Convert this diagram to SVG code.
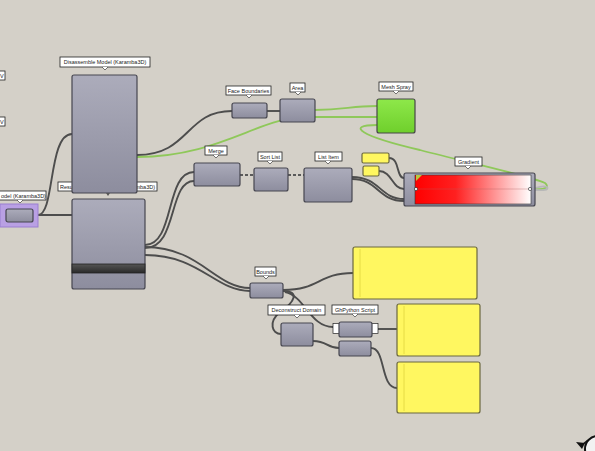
<svg xmlns="http://www.w3.org/2000/svg" width="595" height="451" viewBox="0 0 595 451">
<defs>
<linearGradient id="ng" x1="0" y1="0" x2="0" y2="1"><stop offset="0" stop-color="#acacbb"/><stop offset="1" stop-color="#8d8d9e"/></linearGradient>
<linearGradient id="gg" x1="0" y1="0" x2="0" y2="1"><stop offset="0" stop-color="#8ee84a"/><stop offset="1" stop-color="#6fcf2c"/></linearGradient>
<linearGradient id="rw" x1="0" y1="0" x2="1" y2="0"><stop offset="0" stop-color="#ff0000"/><stop offset="0.35" stop-color="#ff2020"/><stop offset="1" stop-color="#ffffff"/></linearGradient>
<linearGradient id="db" x1="0" y1="0" x2="0" y2="1"><stop offset="0" stop-color="#555"/><stop offset="1" stop-color="#2a2a2a"/></linearGradient>
<style>
.n{fill:url(#ng);stroke:#464650;stroke-width:1.2}
.lb{fill:#fff;stroke:#222;stroke-width:0.8}
.pt{fill:#fff;stroke:#222;stroke-width:0.6}
.t{font-family:"Liberation Sans",Arial,sans-serif;font-size:5.5px;fill:#222}
.w{fill:none;stroke:#4d4d4d;stroke-width:1.9}
.d{fill:none;stroke:#5a5a5a;stroke-width:1.8;stroke-dasharray:3,2}
.gw{fill:none;stroke:#8fc85a;stroke-width:1.8}
.p{fill:#fff760;stroke:#6b6840;stroke-width:1.2}
.ps{fill:none;stroke:#e0d640;stroke-width:0.8}
</style>
</defs>
<rect width="595" height="451" fill="#d4d0c8"/>

<g id="connectors">
<path class="w" d="M38,215 C55,215 48,134 72,134"/>
<path class="w" d="M38,215 L72,215"/>
<path class="w" d="M137,155 C190,155 185,111 232,111"/>
<path class="gw" d="M137,157 C215,157 255,121 300,117 L377,117"/>
<path class="gw" d="M315,110 C345,110 350,106 377,106"/>
<path class="w" d="M267,111 L280,111"/>
<path class="gw" d="M377,125 C345,125 360,136 420,150 C470,163 530,176 545,183 C550,187 545,190 535,189"/>
<path fill="none" stroke="#b8b8b8" stroke-width="1.8" d="M535,188 C545,185 549,187 547,189 C545,191 540,190 535,190"/>
<path class="w" d="M145,245 C175,245 165,172 194,172"/>
<path class="w" d="M145,248 C178,248 168,181 194,181"/>
<path class="w" d="M145,247 C200,247 215,288 250,288"/>
<path class="w" d="M145,255 C200,255 215,291 250,291"/>
<path class="d" d="M240,175 L254,175"/>
<path class="d" d="M288,175 L304,175"/>
<path class="w" d="M352,177 C380,177 380,199 404,199"/>
<path class="w" d="M352,179 C378,179 378,201 404,201"/>
<path class="w" d="M389,158 C400,158 396,178 404,178"/>
<path class="w" d="M379,171 C392,171 392,189 404,189"/>
<path class="w" d="M283,290 C320,290 318,273 353,273"/>
<path class="w" d="M283,291 C300,291 295,302 280,312 C268,322 272,334 281,334"/>
<path class="w" d="M285,292 C305,296 310,327 333,327"/>
<path class="w" d="M313,341 C328,341 326,348 339,348"/>
<path class="w" d="M378,329 L397,329"/>
<path class="w" d="M371,348 C386,348 380,388 397,388"/>
</g>

<g id="left-tags">
<rect class="lb" x="-4" y="71" width="9" height="9"/>
<text class="t" x="0" y="78">V</text>
<rect class="lb" x="-4" y="117" width="9" height="9"/>
<text class="t" x="0" y="124">V</text>
</g>

<g id="model">
<rect x="0" y="204" width="38" height="23" fill="#b9a0e4" stroke="#9a7fd0" stroke-width="1"/>
<rect class="n" x="6" y="209" width="27" height="13" rx="2"/>
<rect class="lb" x="-6" y="191" width="52" height="9"/>
<path class="pt" d="M17,200 L20,203 L23,200"/>
<text class="t" x="1" y="197.8">odel (Karamba3D)</text>
</g>

<g id="response">
<rect class="lb" x="58" y="182" width="99" height="9"/>
<text class="t" x="60" y="188.8">Resu</text>
<text class="t" x="155" y="188.8" text-anchor="end">mba3D)</text>
<rect class="n" x="72" y="199" width="73" height="90" rx="2"/>
<rect x="72" y="264" width="73" height="9" fill="url(#db)" stroke="#222" stroke-width="0.8"/>
</g>

<g id="disassemble">
<rect class="lb" x="60" y="57" width="90" height="10"/>
<path class="pt" d="M102,67 L105,70 L108,67"/>
<text class="t" x="105" y="64.3" text-anchor="middle">Disassemble Model (Karamba3D)</text>
<rect class="n" x="72" y="75" width="65" height="118" rx="2"/>
<path d="M106,193 L108,196 L110,193" fill="#555"/>
</g>

<g id="face-boundaries">
<rect class="lb" x="226" y="86" width="45" height="9"/>
<path class="pt" d="M246,95 L249,98 L252,95"/>
<text class="t" x="248.5" y="92.7" text-anchor="middle">Face Boundaries</text>
<rect class="n" x="232" y="103" width="35" height="15" rx="2"/>
</g>

<g id="area">
<rect class="lb" x="290" y="83" width="15" height="9"/>
<path class="pt" d="M295,92 L298,95 L301,92"/>
<text class="t" x="297.5" y="89.7" text-anchor="middle">Area</text>
<rect class="n" x="280" y="99" width="35" height="23" rx="2"/>
</g>

<g id="mesh-spray">
<rect class="lb" x="379" y="82" width="34" height="9"/>
<path class="pt" d="M393,91 L396,94 L399,91"/>
<text class="t" x="396" y="88.7" text-anchor="middle">Mesh Spray</text>
<rect x="377" y="99" width="38" height="34" rx="2" fill="url(#gg)" stroke="#464646" stroke-width="1.2"/>
</g>

<g id="merge">
<rect class="lb" x="205" y="146" width="22" height="9"/>
<path class="pt" d="M213,155 L216,158 L219,155"/>
<text class="t" x="216" y="152.7" text-anchor="middle">Merge</text>
<rect class="n" x="194" y="163" width="46" height="23" rx="2"/>
</g>

<g id="sort-list">
<rect class="lb" x="258" y="152" width="24" height="9"/>
<path class="pt" d="M267,161 L270,164 L273,161"/>
<text class="t" x="270" y="158.7" text-anchor="middle">Sort List</text>
<rect class="n" x="254" y="168" width="34" height="23" rx="2"/>
</g>

<g id="list-item">
<rect class="lb" x="315" y="152" width="27" height="9"/>
<path class="pt" d="M325,161 L328,164 L331,161"/>
<text class="t" x="328.5" y="158.7" text-anchor="middle">List Item</text>
<rect class="n" x="304" y="168" width="48" height="34" rx="2"/>
</g>

<g id="swatch-1"><rect class="p" x="362" y="153" width="27" height="10" rx="1.5"/></g>
<g id="swatch-2"><rect class="p" x="363" y="166" width="16" height="10" rx="1.5"/></g>

<g id="gradient">
<rect class="lb" x="455" y="157" width="27" height="9"/>
<path class="pt" d="M465,166 L468,169 L471,166"/>
<text class="t" x="468.5" y="163.7" text-anchor="middle">Gradient</text>
<rect class="n" x="404" y="173" width="131" height="33" rx="2"/>
<rect x="415" y="175" width="116" height="29" fill="url(#rw)" stroke="#333" stroke-width="0.6"/>
<line x1="416" y1="189" x2="530" y2="189" stroke="#b06060" stroke-width="0.5" opacity="0.7"/>
<path d="M416,175 L422,175 L416,181 Z" fill="#b7c840"/>
<circle cx="416" cy="189" r="1.6" fill="#fff" stroke="#222" stroke-width="0.6"/>
<circle cx="530" cy="189" r="1.6" fill="#fff" stroke="#222" stroke-width="0.6"/>
</g>

<g id="bounds">
<rect class="lb" x="255" y="267" width="21" height="9"/>
<path class="pt" d="M263,276 L266,279 L269,276"/>
<text class="t" x="265.5" y="273.7" text-anchor="middle">Bounds</text>
<rect class="n" x="250" y="283" width="33" height="15" rx="2"/>
</g>

<g id="panel-1">
<rect class="p" x="353" y="247" width="124" height="52" rx="2"/>
<line class="ps" x1="360" y1="249" x2="360" y2="297"/>
</g>

<g id="deconstruct-domain">
<rect class="lb" x="268" y="305" width="57" height="10"/>
<path class="pt" d="M294,315 L297,318 L300,315"/>
<text class="t" x="296.5" y="312.2" text-anchor="middle">Deconstruct Domain</text>
<rect class="n" x="281" y="323" width="32" height="23" rx="2"/>
</g>

<g id="ghpython">
<rect class="lb" x="332" y="305" width="46" height="9"/>
<path class="pt" d="M352,314 L355,317 L358,314"/>
<text class="t" x="355" y="311.7" text-anchor="middle">GhPython Script</text>
<rect x="333" y="323.5" width="7" height="10" fill="#fff" stroke="#222" stroke-width="0.7"/>
<rect x="371" y="323.5" width="7" height="10" fill="#fff" stroke="#222" stroke-width="0.7"/>
<rect class="n" x="339" y="322" width="33" height="15" rx="2"/>
</g>

<g id="node-lower">
<rect class="n" x="339" y="341" width="32" height="15" rx="2"/>
</g>

<g id="panel-2">
<rect class="p" x="397" y="304" width="83" height="52" rx="2"/>
<line class="ps" x1="404" y1="306" x2="404" y2="354"/>
</g>

<g id="panel-3">
<rect class="p" x="397" y="362" width="83" height="51" rx="2"/>
<line class="ps" x1="404" y1="364" x2="404" y2="411"/>
</g>

<g id="corner-icon">
<circle cx="598" cy="449" r="13" fill="#f2f2f2" stroke="#111" stroke-width="2"/>
<path d="M576,442 L585,443 L582,449 Z" fill="#111"/>
<path d="M582,445 L588,440" stroke="#111" stroke-width="1.5"/>
</g>
</svg>
